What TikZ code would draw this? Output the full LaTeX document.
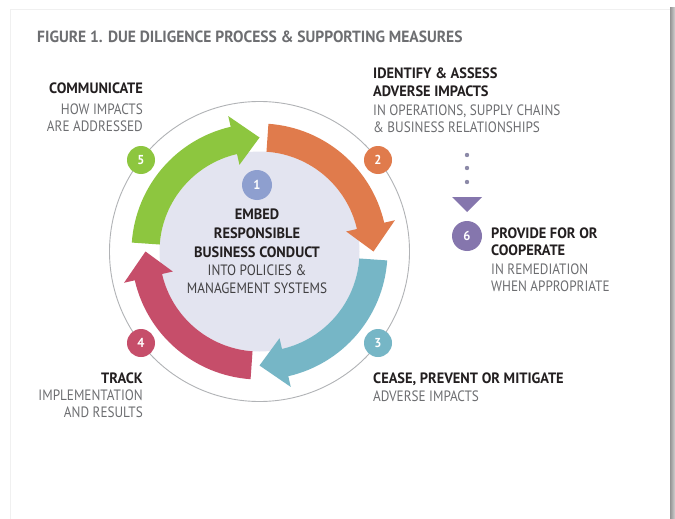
\documentclass[tikz,border=0pt]{standalone}
\usepackage{fontspec}
\setmainfont{PT Sans}[FakeStretch=0.96]
\newfontfamily\narrowreg{PT Sans}[FakeStretch=0.88]
\definecolor{cgreen}{HTML}{8DC63F}
\definecolor{corange}{HTML}{E07B4C}
\definecolor{cteal}{HTML}{76B6C6}
\definecolor{cred}{HTML}{C64E6A}
\definecolor{cone}{HTML}{8E9FCF}
\definecolor{csix}{HTML}{8576AD}
\definecolor{cdot}{HTML}{8C8AA8}
\definecolor{cdisc}{HTML}{E3E4F0}
\definecolor{cdark}{HTML}{231F20}
\definecolor{cgraytext}{HTML}{6D6E71}
\definecolor{cmid}{HTML}{414042}
\definecolor{cring}{HTML}{B1B3B6}
\tikzset{
  lblbold/.style={font=\bfseries\fontsize{15}{17}\selectfont, text=cdark, inner sep=0pt},
  lbltext/.style={font=\narrowreg\fontsize{15}{17}\selectfont, text=cgraytext, inner sep=0pt},
  bubble/.style={circle, minimum size=28pt, inner sep=0pt, text=white,
    font=\bfseries\fontsize{13}{13}\selectfont},
}
\begin{document}
\begin{tikzpicture}[x=1pt, y=-1pt]
\useasboundingbox (0,0) rectangle (675,519);
% page and panel
\fill[white] (0,0) rectangle (675,519);
\draw[black!6, line width=1pt] (10,519) -- (10,10) -- (670,10);
\shade[left color=black!42, right color=black!18] (670,8) rectangle (675,519);

% title
\node[lblbold, text=cgraytext, font=\bfseries\fontsize{16.2}{18}\selectfont, anchor=base west] (title) at (37,43)
  {FIGURE 1. DUE DILIGENCE PROCESS \& SUPPORTING MEASURES};

% cycle
\begin{scope}[shift={(259.5,251.5)}, y=1pt]
  \draw[cring, line width=0.9pt] (0,0) circle[radius=150];
  \fill[cdisc] (0,0) circle[radius=100];
  \foreach \k/\col in {0/cgreen,1/corange,2/cteal,3/cred} {
    \pgfmathsetmacro\t{90-90*\k}
    \pgfmathsetmacro\b{\t+13}
    \pgfmathsetmacro\a{\t+86}
    \fill[\col] (\a:128) arc[start angle=\a, end angle=\b, radius=128]
      -- (\b:139) -- (\t:114) -- (\b:89) -- (\b:100)
      arc[start angle=\b, end angle=\a, radius=100] -- cycle;
  }
\end{scope}

% step markers
\node[bubble, fill=cone, minimum size=30pt] (n1) at (257,185) {1};
\node[bubble, fill=corange] (n2) at (378,160) {2};
\node[bubble, fill=cteal] (n3) at (378,343) {3};
\node[bubble, fill=cred] (n4) at (141,343) {4};
\node[bubble, fill=cgreen] (n5) at (141,160) {5};
\node[bubble, fill=csix, minimum size=30pt] (n6) at (467,236) {6};

% dotted lead to step 6
\foreach \yy in {155,168,182} \fill[cdot] (467,\yy) circle[radius=2.2];
\fill[csix] (452,197) -- (482,197) -- (467,212) -- cycle;

% centre text
\node[lblbold, anchor=base] (c1) at (257,219) {EMBED};
\node[lblbold, anchor=base] (c2) at (257,238) {RESPONSIBLE};
\node[lblbold, anchor=base] (c3) at (257,257) {BUSINESS CONDUCT};
\node[lbltext, text=cmid, anchor=base] (c4) at (257,275) {INTO POLICIES \&};
\node[lbltext, text=cmid, anchor=base] (c5) at (257,293) {MANAGEMENT SYSTEMS};

% step 5
\node[lblbold, anchor=base east] (t5a) at (143,94) {COMMUNICATE};
\node[lbltext, anchor=base east] (t5b) at (143,114) {HOW IMPACTS};
\node[lbltext, anchor=base east] (t5c) at (143,131) {ARE ADDRESSED};

% step 2
\node[lblbold, anchor=base west] (t2a) at (373,78) {IDENTIFY \& ASSESS};
\node[lblbold, anchor=base west] (t2b) at (373,96) {ADVERSE IMPACTS};
\node[lbltext, anchor=base west] (t2c) at (373,115) {IN OPERATIONS, SUPPLY CHAINS};
\node[lbltext, anchor=base west] (t2d) at (373,132) {\& BUSINESS RELATIONSHIPS};

% step 6
\node[lblbold, anchor=base west] (t6a) at (491,238) {PROVIDE FOR OR};
\node[lblbold, anchor=base west] (t6b) at (491,255) {COOPERATE};
\node[lbltext, anchor=base west] (t6c) at (491,274) {IN REMEDIATION};
\node[lbltext, anchor=base west] (t6d) at (491,291) {WHEN APPROPRIATE};

% step 3
\node[lblbold, anchor=base west] (t3a) at (373,383) {CEASE, PREVENT OR MITIGATE};
\node[lbltext, anchor=base west] (t3b) at (373,401) {ADVERSE IMPACTS};

% step 4
\node[lblbold, anchor=base east] (t4a) at (143,383) {TRACK};
\node[lbltext, anchor=base east] (t4b) at (143,400) {IMPLEMENTATION};
\node[lbltext, anchor=base east] (t4c) at (143,417) {AND RESULTS};
\end{tikzpicture}
\end{document}
